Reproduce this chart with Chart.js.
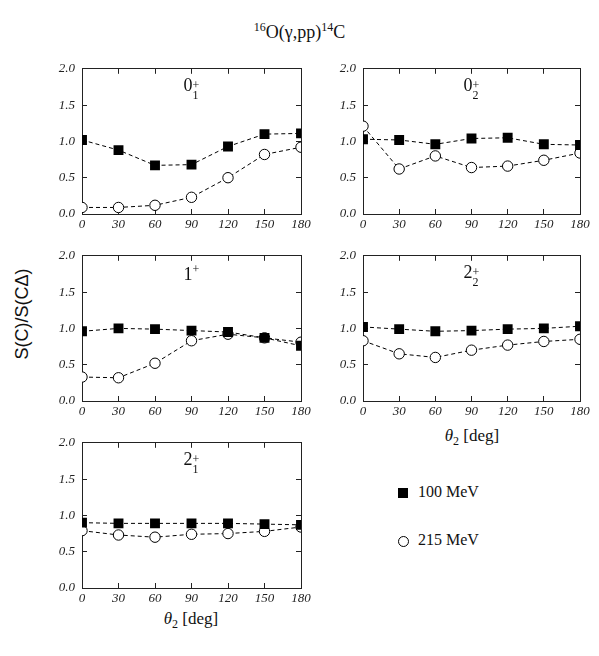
<!DOCTYPE html>
<html lang="en">

<head>
    <meta charset="UTF-8">
    <title>16O(g,pp)14C</title>
    <style>
        body { margin: 0; background: #fff; font-family: "Liberation Serif", "DejaVu Serif", serif; color: #111; }
        #page { position: relative; width: 599px; height: 656px; overflow: hidden; }
        canvas { position: absolute; }
        .txt { position: absolute; white-space: nowrap; }
        .state { font-size: 18px; transform: translateX(-50%); }
        .ss { display: inline-flex; flex-direction: column; font-size: 12px; line-height: 10px; vertical-align: 2px; }
        .xlab { font-size: 17px; transform: translateX(-50%); }
        .legend { font-size: 16px; }
        .mk { position: absolute; box-sizing: border-box; }
    </style>
</head>

<body>
    <div id="page">
        <div class="txt" style="left:0;width:599px;top:20px;text-align:center;font-size:18px;">
            <sup style="font-size:12px">16</sup>O(&gamma;,pp)<sup style="font-size:12px">14</sup>C
        </div>
        <div class="txt" style="left:22px;top:314px;font-family:'Liberation Sans',sans-serif;font-size:18px;transform:translate(-50%,-50%) rotate(-90deg);">
            S(C)/S(C&Delta;)
        </div>
        <div class="txt xlab" style="left:472px;top:426px;"><i>&theta;</i><sub style="font-size:12px">2</sub> [deg]</div>
        <div class="txt xlab" style="left:191px;top:609px;"><i>&theta;</i><sub style="font-size:12px">2</sub> [deg]</div>

        <div class="mk" style="left:398px;top:488px;width:10px;height:10px;background:#000;"></div>
        <div class="txt legend" style="left:418px;top:483px;">100 MeV</div>
        <div class="mk" style="left:398px;top:536px;width:11px;height:11px;border:1px solid #000;border-radius:50%;"></div>
        <div class="txt legend" style="left:418px;top:531px;">215 MeV</div>
    </div>

    <script src="https://cdn.jsdelivr.net/npm/chart.js"></script>
    <script>
        // angles theta_2 and y ticks
        const angles = [0, 30, 60, 90, 120, 150, 180];
        const yTicks = [0.0, 0.5, 1.0, 1.5, 2.0];

        // panel states (0_1+, 0_2+, 1+, 2_2+, 2_1+)
        const stateMain = ['0', '0', '1', '2', '2'];
        const stateSub = ['1', '2', '', '2', '1'];

        // 100 MeV (filled squares)
        const mev100_01 = [1.02, 0.88, 0.67, 0.68, 0.93, 1.10, 1.11];
        const mev100_02 = [1.03, 1.02, 0.96, 1.04, 1.05, 0.96, 0.95];
        const mev100_1 = [0.96, 1.00, 0.99, 0.97, 0.95, 0.87, 0.76];
        const mev100_22 = [1.02, 0.99, 0.96, 0.97, 0.99, 1.00, 1.03];
        const mev100_21 = [0.90, 0.89, 0.89, 0.89, 0.89, 0.88, 0.87];

        // 215 MeV (open circles)
        const mev215_01 = [0.09, 0.09, 0.12, 0.23, 0.50, 0.82, 0.92];
        const mev215_02 = [1.21, 0.62, 0.80, 0.64, 0.66, 0.74, 0.84];
        const mev215_1 = [0.33, 0.32, 0.52, 0.83, 0.92, 0.87, 0.81];
        const mev215_22 = [0.83, 0.65, 0.60, 0.70, 0.77, 0.82, 0.85];
        const mev215_21 = [0.79, 0.73, 0.70, 0.74, 0.75, 0.78, 0.84];

        const series100 = [mev100_01, mev100_02, mev100_1, mev100_22, mev100_21];
        const series215 = [mev215_01, mev215_02, mev215_1, mev215_22, mev215_21];

        // plot area boxes on the page
        const boxes = [
            { left: 82, top: 59, w: 219, h: 155 },
            { left: 363, top: 59, w: 217, h: 155 },
            { left: 82, top: 246, w: 219, h: 155 },
            { left: 363, top: 246, w: 217, h: 155 },
            { left: 82, top: 433, w: 219, h: 155 }
        ];

        const padL = 50, padR = 20, padT = 10, padB = 30;
        const ink = '#222';

        Chart.defaults.font.family = 'Liberation Serif';
        Chart.defaults.font.style = 'italic';
        Chart.defaults.font.size = 13;
        Chart.defaults.color = ink;

        function pts(vals) {
            return angles.map((a, i) => ({ x: a, y: vals[i] }));
        }

        function edgeAxis(pos, size, showLabels) {
            const horiz = pos == 'top' || pos == 'bottom';
            return {
                type: 'linear',
                position: pos,
                min: horiz ? angles[0] : yTicks[0],
                max: horiz ? angles[angles.length - 1] : yTicks[yTicks.length - 1],
                border: { display: true, color: ink, width: 1 },
                grid: { drawOnChartArea: false, drawTicks: true, tickLength: -5, color: ink, lineWidth: 1 },
                ticks: {
                    display: showLabels,
                    stepSize: horiz ? 30 : 0.5,
                    color: ink,
                    font: { family: 'Liberation Serif', style: 'italic', size: 13 },
                    padding: pos == 'left' ? 12 : 8,
                    callback: pos == 'left' ? (v => v.toFixed(1)) : (v => v)
                },
                afterFit(scale) {
                    if (horiz) scale.height = size;
                    else scale.width = size;
                }
            };
        }

        const page = document.getElementById('page');

        boxes.forEach((b, k) => {
            const cv = document.createElement('canvas');
            cv.width = b.w + padL + padR;
            cv.height = b.h + padT + padB;
            cv.style.left = (b.left - padL) + 'px';
            cv.style.top = (b.top - padT) + 'px';
            page.appendChild(cv);

            new Chart(cv.getContext('2d'), {
                type: 'line',
                data: {
                    datasets: [{
                        label: '100 MeV',
                        data: pts(series100[k]),
                        borderColor: '#000',
                        borderWidth: 1,
                        borderDash: [4, 3],
                        pointStyle: 'rect',
                        pointRadius: 7,
                        pointBackgroundColor: '#000',
                        pointBorderColor: '#000',
                        pointBorderWidth: 0,
                        clip: 0
                    }, {
                        label: '215 MeV',
                        data: pts(series215[k]),
                        borderColor: '#000',
                        borderWidth: 1,
                        borderDash: [4, 3],
                        pointStyle: 'circle',
                        pointRadius: 5.2,
                        pointBackgroundColor: '#fff',
                        pointBorderColor: '#000',
                        pointBorderWidth: 1,
                        clip: 0
                    }]
                },
                options: {
                    responsive: false,
                    animation: false,
                    devicePixelRatio: 1,
                    layout: { padding: 0 },
                    plugins: { legend: { display: false }, tooltip: { enabled: false } },
                    scales: {
                        x: edgeAxis('bottom', padB, true),
                        x2: edgeAxis('top', padT, false),
                        y: edgeAxis('left', padL, true),
                        y2: edgeAxis('right', padR, false)
                    }
                }
            });

            // state label inside the panel
            const lab = document.createElement('div');
            lab.className = 'txt state';
            lab.style.left = (b.left + b.w / 2) + 'px';
            lab.style.top = (b.top + 16) + 'px';
            let html = stateMain[k];
            if (stateSub[k]) html += '<span class="ss"><span>+</span><span>' + stateSub[k] + '</span></span>';
            else html += '<sup style="font-size:12px">+</sup>';
            lab.innerHTML = html;
            page.appendChild(lab);
        });
    </script>
</body>

</html>
